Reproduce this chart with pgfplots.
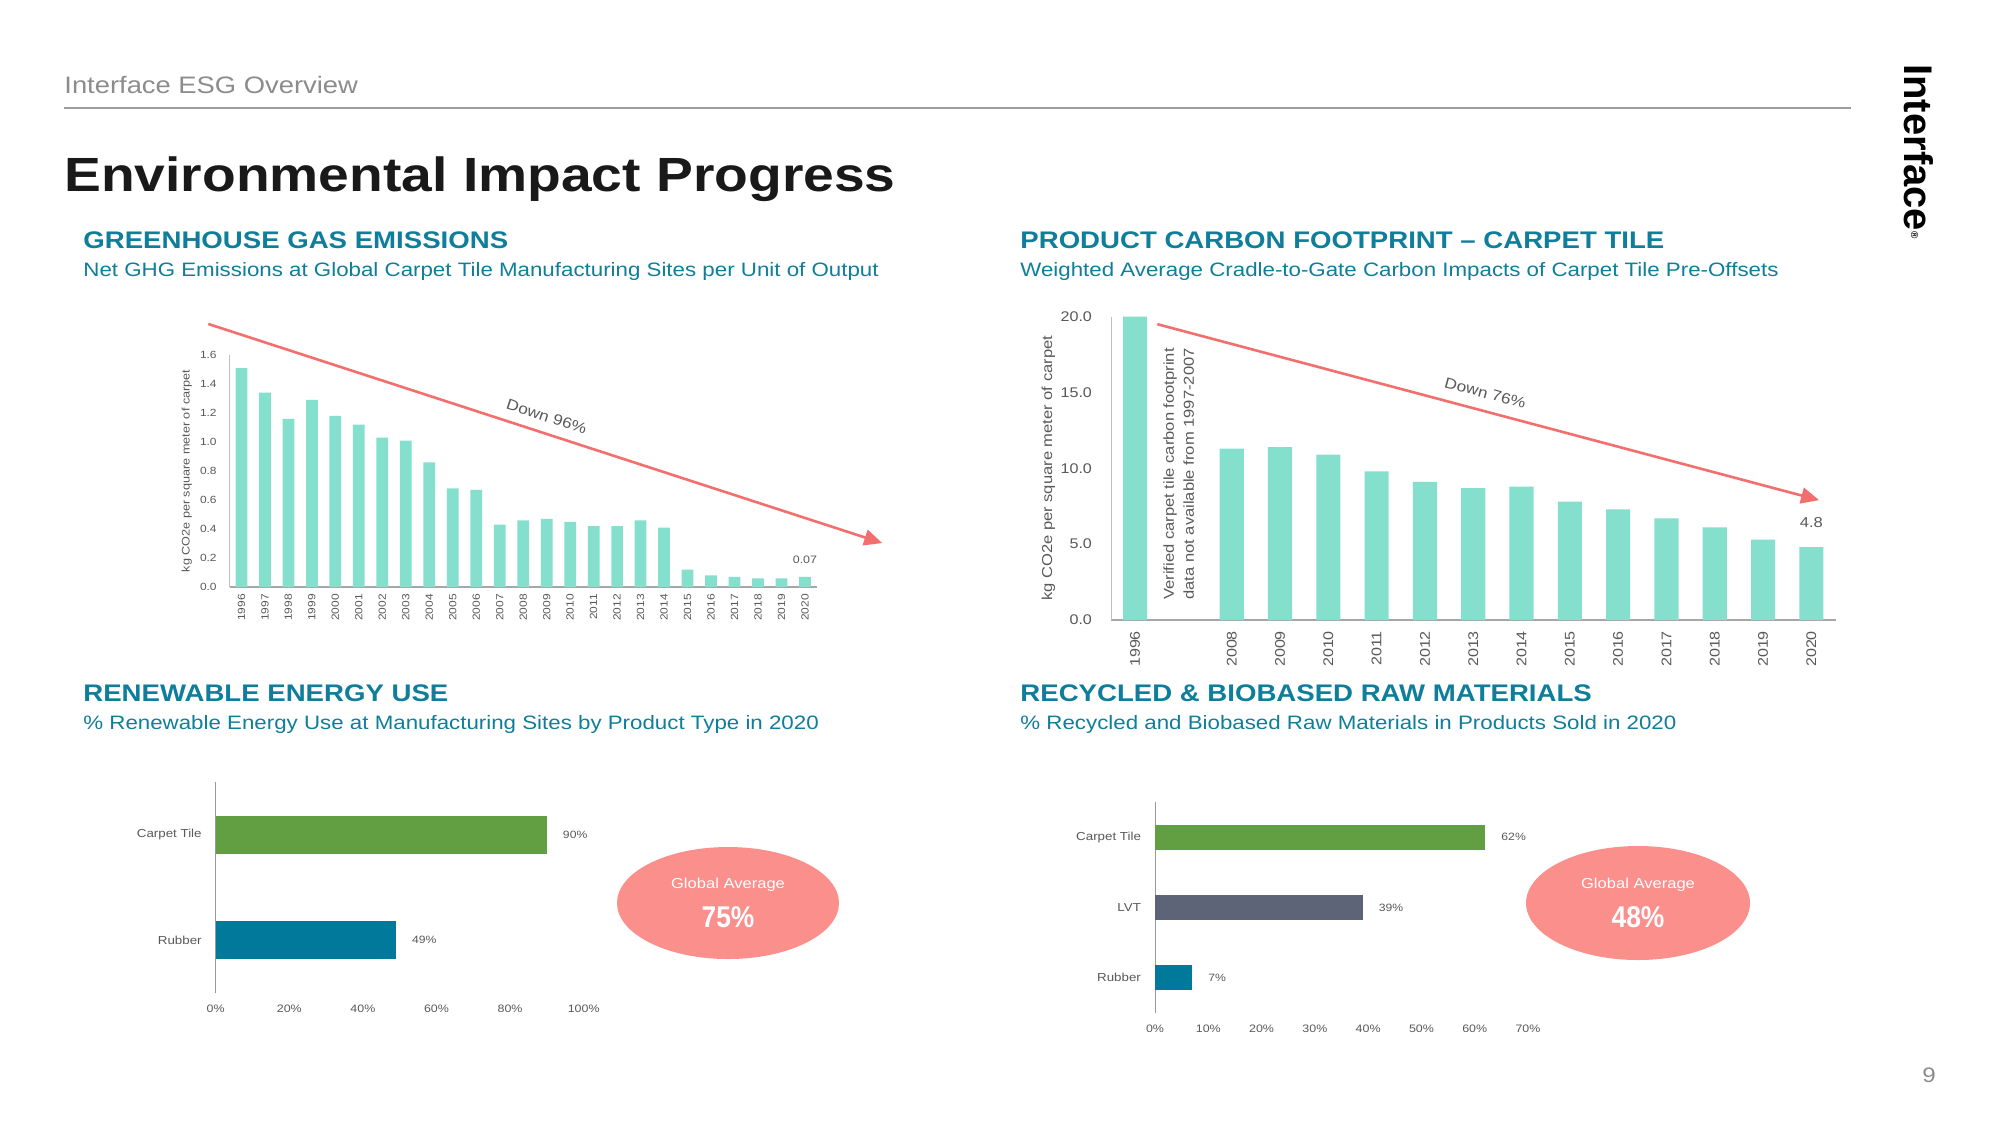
\documentclass[border=0pt]{standalone}
\usepackage{fontspec}
\setmainfont{Liberation Sans}[FakeStretch=1.15]
\newfontfamily\logofont{Liberation Sans}
\newfontfamily\narrowfont{Liberation Sans}[FakeStretch=0.88]
\usepackage{pgfplots}
\pgfplotsset{compat=1.18}
\usetikzlibrary{arrows.meta}
\definecolor{cbar}{HTML}{85DFCD}
\definecolor{carrow}{HTML}{F36F6D}
\definecolor{cell}{HTML}{FA8F8C}
\definecolor{cgreen}{HTML}{629E42}
\definecolor{cteal}{HTML}{00799A}
\definecolor{cslate}{HTML}{5E6478}
\definecolor{chead}{HTML}{0F7E9B}
\definecolor{ctext}{HTML}{595959}
\definecolor{cgray}{HTML}{8C8C8C}
\definecolor{cxaxis}{HTML}{A6A6A6}
\definecolor{cyaxis}{HTML}{BFBFBF}
\pgfplotsset{every axis/.append style={/pgf/number format/assume math mode=true}}
\begin{document}
\begin{tikzpicture}
\fill[white] (0,0) rectangle (1000pt,-562.5pt);
\useasboundingbox (0,0) rectangle (1000pt,-562.5pt);
\begin{scope}[x=0.5pt,y=-0.5pt]
\node[anchor=base west,inner sep=0,text=cgray,font=\fontsize{11.9}{14}\selectfont] at (64,93) {Interface ESG Overview};
\draw[cgray!85,line width=1pt] (64,108) -- (1851,108);
\node[anchor=base west,inner sep=0,text=black!90,font=\fontsize{24}{28}\selectfont\bfseries] at (64,191) {Environmental Impact Progress};
\node[anchor=west,inner sep=0,rotate=-90,font=\logofont\fontsize{20}{22}\selectfont\bfseries] at (1919,64) {Interface\raisebox{0.3ex}{\fontsize{5}{5}\selectfont ®}};
\node[text=cgray,font=\fontsize{10.5}{12}\selectfont] at (1929,1075) {9};
% headings
\node[anchor=base west,inner sep=0,text=chead,font=\fontsize{12}{14}\selectfont\bfseries] at (83,248) {GREENHOUSE GAS EMISSIONS};
\node[anchor=base west,inner sep=0,text=chead,font=\fontsize{9.7}{12}\selectfont] at (83,276) {Net GHG Emissions at Global Carpet Tile Manufacturing Sites per Unit of Output};
\node[anchor=base west,inner sep=0,text=chead,font=\fontsize{12}{14}\selectfont\bfseries] at (1020,248) {PRODUCT CARBON FOOTPRINT – CARPET TILE};
\node[anchor=base west,inner sep=0,text=chead,font=\fontsize{9.7}{12}\selectfont] at (1020,276) {Weighted Average Cradle-to-Gate Carbon Impacts of Carpet Tile Pre-Offsets};
\node[anchor=base west,inner sep=0,text=chead,font=\fontsize{12}{14}\selectfont\bfseries] at (83,701) {RENEWABLE ENERGY USE};
\node[anchor=base west,inner sep=0,text=chead,font=\fontsize{9.7}{12}\selectfont] at (83,729) {\% Renewable Energy Use at Manufacturing Sites by Product Type in 2020};
\node[anchor=base west,inner sep=0,text=chead,font=\fontsize{12}{14}\selectfont\bfseries] at (1020,701) {RECYCLED \& BIOBASED RAW MATERIALS};
\node[anchor=base west,inner sep=0,text=chead,font=\fontsize{9.7}{12}\selectfont] at (1020,729) {\% Recycled and Biobased Raw Materials in Products Sold in 2020};
% ellipses
\fill[cell] (728,903) ellipse [x radius=111, y radius=56];
\node[text=white,font=\fontsize{7.2}{9}\selectfont] at (728,885) {Global Average};
\node[text=white,font=\narrowfont\fontsize{15}{17}\selectfont\bfseries] at (728,917) {75\%};
\fill[cell] (1638,903) ellipse [x radius=112, y radius=57];
\node[text=white,font=\fontsize{7.2}{9}\selectfont] at (1638,885) {Global Average};
\node[text=white,font=\narrowfont\fontsize{15}{17}\selectfont\bfseries] at (1638,917) {48\%};
\end{scope}

% ---------- Chart 1: GHG emissions
\begin{axis}[
  at={(114.85pt,-293.5pt)}, anchor=south west,
  scale only axis, width=293.5pt, height=116pt,
  xmin=-0.5, xmax=24.5, ymin=0, ymax=1.6,
  ybar, bar width=0.5, bar shift=0pt,
  axis x line*=bottom, axis y line*=left,
  x axis line style={draw=cxaxis,line width=0.8pt,-},
  y axis line style={draw=cyaxis,-},
  major tick length=0pt,
  ytick={0,0.2,0.4,0.6,0.8,1.0,1.2,1.4,1.6},
  y tick label style={/pgf/number format/.cd,fixed,fixed zerofill,precision=1,/tikz/.cd, xshift=-3pt},
  xtick={0,...,24},
  xticklabels={1996,1997,1998,1999,2000,2001,2002,2003,2004,2005,2006,2007,2008,2009,2010,2011,2012,2013,2014,2015,2016,2017,2018,2019,2020},
  x tick label style={rotate=90,anchor=east},
  tick label style={font=\fontsize{5.2}{6}\selectfont,text=ctext},
  ylabel={kg CO2e per square meter of carpet},
  ylabel style={font=\fontsize{5.5}{6}\selectfont,text=ctext,at={(axis description cs:-0.0733,0.5)},anchor=center},
  clip=false,
]
\addplot[fill=cbar,draw=none] coordinates {
(0,1.51) (1,1.34) (2,1.16) (3,1.29) (4,1.18) (5,1.12) (6,1.03) (7,1.01) (8,0.86)
(9,0.68) (10,0.67) (11,0.43) (12,0.46) (13,0.47) (14,0.45) (15,0.42) (16,0.42)
(17,0.46) (18,0.41) (19,0.12) (20,0.08) (21,0.07) (22,0.06) (23,0.06) (24,0.07)};
\draw[carrow,line width=1.3pt,-{Triangle[length=9pt,width=8pt]}] (axis cs:-1.41,1.814) -- (axis cs:27.29,0.303);
\node[rotate=-18,font=\fontsize{7.5}{9}\selectfont,text=ctext] at (axis cs:13,1.174) {Down 96\%};
\node[anchor=south,yshift=3pt,font=\fontsize{5.4}{6}\selectfont,text=ctext] at (axis cs:24,0.07) {0.07};
\end{axis}

% ---------- Chart 2: carbon footprint
\begin{axis}[
  at={(555.5pt,-310pt)}, anchor=south west,
  scale only axis, width=362.25pt, height=151.7pt,
  xmin=-0.5, xmax=14.5, ymin=0, ymax=20,
  ybar, bar width=0.5, bar shift=0pt,
  axis x line*=bottom, axis y line*=left,
  x axis line style={draw=cxaxis,line width=0.8pt,-},
  y axis line style={draw=cyaxis,-},
  major tick length=0pt,
  ytick={0,5,10,15,20},
  y tick label style={/pgf/number format/.cd,fixed,fixed zerofill,precision=1,/tikz/.cd, xshift=-6pt},
  xtick={0,2,3,4,5,6,7,8,9,10,11,12,13,14},
  xticklabels={1996,2008,2009,2010,2011,2012,2013,2014,2015,2016,2017,2018,2019,2020},
  x tick label style={rotate=90,anchor=east,xshift=-2pt},
  tick label style={font=\fontsize{7}{8}\selectfont,text=ctext},
  ylabel={kg CO2e per square meter of carpet},
  ylabel style={font=\fontsize{7.2}{8}\selectfont,text=ctext,at={(axis description cs:-0.0863,0.5)},anchor=center},
  clip=false,
]
\addplot[fill=cbar,draw=none] coordinates {
(0,20.0) (2,11.3) (3,11.4) (4,10.9) (5,9.8) (6,9.1) (7,8.7) (8,8.8) (9,7.8)
(10,7.3) (11,6.7) (12,6.1) (13,5.3) (14,4.8)};
\draw[carrow,line width=1.3pt,-{Triangle[length=9pt,width=8pt]}] (axis cs:0.46,19.5) -- (axis cs:14.16,7.9);
\node[rotate=-15,font=\fontsize{7.5}{9}\selectfont,text=ctext] at (axis cs:7.25,14.96) {Down 76\%};
\node[anchor=south,yshift=6pt,font=\fontsize{7.2}{8}\selectfont,text=ctext] at (axis cs:14,4.8) {4.8};
\node[rotate=90,anchor=west,align=left,inner sep=0,font=\fontsize{7.2}{10}\selectfont,text=ctext] at (axis cs:0.9,1.32) {Verified carpet tile carbon footprint\\data not available from 1997-2007};
\end{axis}

% ---------- Chart 3: renewable energy
\begin{axis}[
  at={(107.85pt,-496.5pt)}, anchor=south west,
  scale only axis, width=184pt, height=105.5pt,
  xmin=0, xmax=100, ymin=-0.5, ymax=1.5,
  xbar, bar width=0.36, bar shift=0pt,
  axis x line*=bottom, axis y line*=left,
  x axis line style={draw=none},
  y axis line style={draw=cyaxis!80!black,-},
  major tick length=0pt,
  ytick={0,1}, yticklabels={Rubber,Carpet Tile},
  y tick label style={font=\fontsize{5.8}{7}\selectfont,text=ctext,xshift=-3.5pt},
  xtick={0,20,40,60,80,100},
  xticklabel={\pgfmathprintnumber{\tick}\%},
  x tick label style={font=\fontsize{5.4}{7}\selectfont,text=ctext,yshift=-2.5pt},
  point meta=x,
  nodes near coords={\pgfmathprintnumber{\pgfplotspointmeta}\%},
  nodes near coords style={font=\fontsize{5.3}{7}\selectfont,text=ctext,anchor=west,xshift=4.5pt},
  clip=false,
]
\addplot[fill=cgreen,draw=none] coordinates {(90,1)};
\addplot[fill=cteal,draw=none] coordinates {(49,0)};
\end{axis}

% ---------- Chart 4: recycled materials
\begin{axis}[
  at={(577.5pt,-506.5pt)}, anchor=south west,
  scale only axis, width=186.5pt, height=105.5pt,
  xmin=0, xmax=70, ymin=-0.5, ymax=2.5,
  xbar, bar width=0.355, bar shift=0pt,
  axis x line*=bottom, axis y line*=left,
  x axis line style={draw=none},
  y axis line style={draw=cyaxis!80!black,-},
  major tick length=0pt,
  ytick={0,1,2}, yticklabels={Rubber,LVT,Carpet Tile},
  y tick label style={font=\fontsize{5.8}{7}\selectfont,text=ctext,xshift=-3.5pt},
  xtick={0,10,20,30,40,50,60,70},
  xticklabel={\pgfmathprintnumber{\tick}\%},
  x tick label style={font=\fontsize{5.4}{7}\selectfont,text=ctext,yshift=-2.5pt},
  point meta=x,
  nodes near coords={\pgfmathprintnumber{\pgfplotspointmeta}\%},
  nodes near coords style={font=\fontsize{5.3}{7}\selectfont,text=ctext,anchor=west,xshift=4.5pt},
  clip=false,
]
\addplot[fill=cgreen,draw=none] coordinates {(62,2)};
\addplot[fill=cslate,draw=none] coordinates {(39,1)};
\addplot[fill=cteal,draw=none] coordinates {(7,0)};
\end{axis}
\end{tikzpicture}
\end{document}
